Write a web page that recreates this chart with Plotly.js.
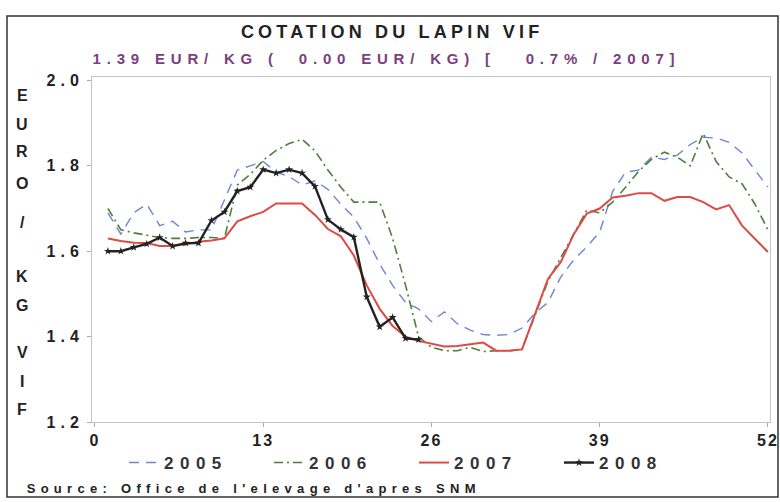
<!DOCTYPE html>
<html>
<head>
<meta charset="utf-8">
<script src="https://cdn.plot.ly/plotly-3.0.1.min.js"></script>
<style>
html,body{margin:0;padding:0;background:#fff;}
#chart{width:780px;height:502px;}
</style>
</head>
<body>
<div id="chart"></div>
<script>
const weeks = [1,2,3,4,5,6,7,8,9,10,11,12,13,14,15,16,17,18,19,20,21,22,23,24,25,26,27,28,29,30,31,32,33,34,35,36,37,38,39,40,41,42,43,44,45,46,47,48,49,50,51,52];
const weeks2008 = [1,2,3,4,5,6,7,8,9,10,11,12,13,14,15,16,17,18,19,20,21,22,23,24,25];

const y2005 = [1.69,1.64,1.69,1.71,1.66,1.67,1.645,1.65,1.65,1.72,1.79,1.80,1.81,1.785,1.775,1.755,1.765,1.745,1.71,1.68,1.63,1.57,1.52,1.48,1.465,1.435,1.458,1.43,1.415,1.405,1.403,1.405,1.42,1.455,1.48,1.54,1.58,1.61,1.645,1.74,1.785,1.79,1.82,1.815,1.825,1.85,1.867,1.865,1.855,1.83,1.79,1.75];
const y2006 = [1.70,1.65,1.643,1.637,1.632,1.63,1.63,1.632,1.632,1.63,1.755,1.78,1.813,1.836,1.852,1.862,1.835,1.79,1.75,1.715,1.715,1.715,1.63,1.52,1.40,1.375,1.367,1.367,1.375,1.365,1.367,1.367,1.37,1.45,1.53,1.585,1.641,1.696,1.69,1.715,1.75,1.787,1.815,1.832,1.82,1.80,1.876,1.81,1.774,1.758,1.71,1.65];
const y2007 = [1.63,1.624,1.62,1.619,1.612,1.612,1.616,1.622,1.625,1.63,1.67,1.682,1.692,1.712,1.712,1.712,1.685,1.652,1.635,1.59,1.52,1.465,1.425,1.40,1.39,1.384,1.377,1.378,1.382,1.386,1.367,1.367,1.37,1.45,1.535,1.575,1.64,1.688,1.70,1.726,1.73,1.736,1.736,1.718,1.727,1.727,1.715,1.698,1.708,1.66,1.63,1.598];
const y2008 = [1.60,1.60,1.609,1.617,1.632,1.612,1.619,1.619,1.672,1.692,1.741,1.75,1.791,1.783,1.791,1.783,1.752,1.674,1.651,1.633,1.493,1.423,1.445,1.396,1.393];

const xTicks = [0,13,26,39,52];
const yTicks = [1.2,1.4,1.6,1.8,2.0];
const yTickText = ['1.2','1.4','1.6','1.8','2.0'];

const titleText = 'COTATION DU LAPIN VIF';
const subText = '1.39 EUR/ KG (\u00a0\u00a00.00 EUR/ KG) [\u00a0\u00a0\u00a00.7% /\u00a02007]';
const sourceText = "Source: Office de l'elevage d'apres SNM";
const yLetters = ['E','U','R','O','/','K','G','V','I','F'];
const yLetterPos = [95,124,151,183,222,276,305,352,381,409];

const FONT = 'Liberation Sans, Arial, sans-serif';
const traces = [
  {x: weeks, y: y2005, name: '2005', mode: 'lines', line: {color: '#6f86d0', width: 1.4, dash: '10px,7px'}},
  {x: weeks, y: y2006, name: '2006', mode: 'lines', line: {color: '#4f7d3f', width: 1.6, dash: '9px,4px,2px,4px'}},
  {x: weeks, y: y2007, name: '2007', mode: 'lines', line: {color: '#dc4b45', width: 2}},
  {x: weeks2008, y: y2008, name: '2008', mode: 'lines+markers', line: {color: '#222', width: 2.4}, marker: {symbol: 'star', size: 6, color: '#222'}}
];

const PL = 92, PR = 770, PT = 77, PB = 422;
const pw = PR - PL, ph = PB - PT;
const px = v => (v - PL) / pw;
const py = v => (PB - v) / ph;

const annotations = [
  {text: titleText, xref: 'paper', yref: 'paper', x: px(392), y: py(32), xanchor: 'center', yanchor: 'middle', showarrow: false, font: {family: FONT, size: 18, color: '#222', weight: 'bold'}},
  {text: subText, xref: 'paper', yref: 'paper', x: px(386), y: py(58), xanchor: 'center', yanchor: 'middle', showarrow: false, font: {family: FONT, size: 15, color: '#7a3f80', weight: 'bold'}},
  {text: sourceText, xref: 'paper', yref: 'paper', x: px(254), y: py(488), xanchor: 'center', yanchor: 'middle', showarrow: false, font: {family: FONT, size: 13, color: '#222', weight: 'bold'}}
];
yLetters.forEach((L, i) => annotations.push({text: L, xref: 'paper', yref: 'paper', x: px(22), y: py(yLetterPos[i]), xanchor: 'center', yanchor: 'middle', showarrow: false, font: {family: FONT, size: 16, color: '#222', weight: 'bold'}}));

const layout = {
  width: 780, height: 502,
  margin: {l: PL, r: 780 - PR, t: PT, b: 502 - PB, pad: 0},
  paper_bgcolor: '#fff', plot_bgcolor: '#fff',
  showlegend: true,
  legend: {orientation: 'h', x: px(414), xanchor: 'center', y: py(463), yanchor: 'middle', bgcolor: 'rgba(0,0,0,0)', font: {family: FONT, size: 17, color: '#333', weight: 'bold'}, entrywidth: 100, entrywidthmode: 'pixels', itemwidth: 30, tracegroupgap: 0},
  xaxis: {range: [-0.23, 52.16], tickvals: xTicks, ticktext: xTicks.map(String), ticks: 'outside', ticklen: 4, tickcolor: '#aaa', showline: true, mirror: true, linecolor: '#c4c4c4', linewidth: 1, showgrid: false, zeroline: false, tickfont: {family: FONT, size: 16, color: '#222', weight: 'bold'}},
  yaxis: {range: [1.2, 2.008], tickvals: yTicks, ticktext: yTickText, ticks: 'outside', ticklen: 4, tickcolor: '#aaa', showline: true, mirror: true, linecolor: '#c4c4c4', linewidth: 1, showgrid: false, zeroline: false, tickfont: {family: FONT, size: 16, color: '#222', weight: 'bold'}},
  annotations: annotations,
  shapes: [
    {type: 'rect', xref: 'paper', yref: 'paper', x0: px(7), x1: px(778), y0: py(497), y1: py(16), line: {color: '#333', width: 1.5}, fillcolor: 'rgba(0,0,0,0)'}
  ]
};

Plotly.newPlot('chart', traces, layout, {displayModeBar: false, staticPlot: true}).then(() => {
  const anns = document.querySelectorAll('.annotation-text');
  if (anns[0]) anns[0].style.letterSpacing = '4.2px';
  if (anns[1]) anns[1].style.letterSpacing = '5.8px';
  if (anns[2]) anns[2].style.letterSpacing = '5.3px';
  document.querySelectorAll('.ytick text').forEach(t => t.style.letterSpacing = '5px');
  document.querySelectorAll('.xtick text').forEach(t => t.style.letterSpacing = '2px');
  document.querySelectorAll('.legendtext').forEach(t => t.style.letterSpacing = '6.5px');
});
</script>
</body>
</html>
